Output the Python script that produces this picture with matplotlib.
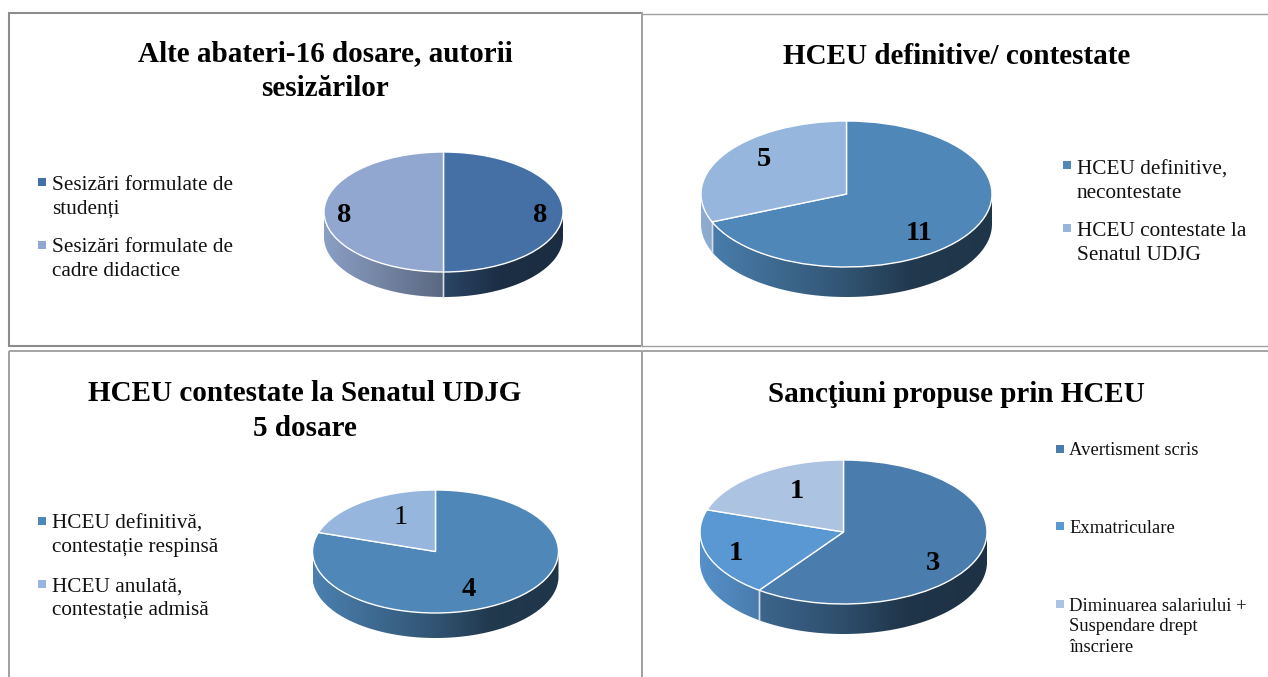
import numpy as np
import matplotlib
matplotlib.use("Agg")
import matplotlib.pyplot as plt
from matplotlib.colors import to_rgb
from matplotlib.patches import Polygon, Rectangle
from matplotlib.lines import Line2D

W, H = 1268, 677
plt.rcParams['font.family'] = ['Liberation Serif', 'DejaVu Sans']

# ---- data ----
titles = ["Alte abateri-16 dosare, autorii\nsesizărilor",
          "HCEU definitive/ contestate",
          "HCEU contestate la Senatul UDJG\n5 dosare",
          "Sancţiuni propuse prin HCEU"]
values_a = [8, 8]
values_b = [11, 5]
values_c = [4, 1]
values_d = [3, 1, 1]
labels_a = ["Sesizări formulate de\nstudenți", "Sesizări formulate de\ncadre didactice"]
labels_b = ["HCEU definitive,\nnecontestate", "HCEU contestate la\nSenatul UDJG"]
labels_c = ["HCEU definitivă,\ncontestație respinsă", "HCEU anulată,\ncontestație admisă"]
labels_d = ["Avertisment scris", "Exmatriculare",
            "Diminuarea salariului +\nSuspendare drept\nînscriere"]
colors_a = ["#4470a5", "#92a7cf"]
colors_b = ["#4f87b9", "#96b6dd"]
colors_c = ["#4f87b9", "#96b6dd"]
colors_d = ["#4a7dad", "#5a98d4", "#adc3e2"]

fig = plt.figure(figsize=(W / 100, H / 100), dpi=100, facecolor="white")


def fx(x):
    return x / W


def fy(y):
    return 1 - y / H


def line(x0, y0, x1, y1, color="#8c8c8c", lw=1.0):
    fig.add_artist(Line2D([fx(x0), fx(x1)], [fy(y0), fy(y1)], color=color, lw=lw,
                          transform=fig.transFigure, solid_capstyle="butt"))


def wall_gradient(color):
    xs = np.linspace(-1, 1, 300)
    mult = np.interp(xs, [-1, 0, 0.45, 1], [0.95, 0.62, 0.42, 0.40])
    rgb = np.array(to_rgb(color))
    return (mult[None, :, None] * rgb[None, None, :]).clip(0, 1)


def pie3d(values, colors, cx, cy, rx, ry, depth):
    m = 6
    ax = fig.add_axes([fx(cx - rx - m), fy(cy + ry + depth + m),
                       (2 * rx + 2 * m) / W, (2 * ry + depth + 2 * m) / H])
    wedges, _ = ax.pie(values, colors=colors, startangle=90, counterclock=False, radius=1,
                       wedgeprops=dict(edgecolor="white", linewidth=1.0, zorder=5))
    d = depth / ry
    for w, col in zip(wedges, colors):
        # keep only the visible (front) half of the rim of each slice
        t = np.radians(np.linspace(w.theta1, w.theta2, 361))
        t = t[np.sin(t) <= 0.0]
        if len(t) < 2:
            continue
        xa, ya = np.cos(t), np.sin(t)
        poly = np.column_stack([np.r_[xa, xa[::-1]], np.r_[ya, ya[::-1] - d]])
        patch = Polygon(poly, closed=True, transform=ax.transData, fc="none", ec="none")
        ax.add_patch(patch)
        im = ax.imshow(wall_gradient(col), extent=[-1, 1, -1 - d, 1], aspect="auto", zorder=2,
                       interpolation="bilinear")
        im.set_clip_path(patch)
        for xe, ye in ((xa[0], ya[0]), (xa[-1], ya[-1])):
            if abs(abs(xe) - 1) > 0.01:
                ax.plot([xe, xe], [ye, ye - d], color="#d5dde8", lw=1.0, zorder=3)
    ax.set_aspect("auto")
    ax.set_xlim(-(rx + m) / rx, (rx + m) / rx)
    ax.set_ylim(-(ry + depth + m) / ry, (ry + m) / ry)
    ax.axis("off")
    return ax


def number(x, y, s, bold=True, size=20.5):
    fig.text(fx(x), fy(y + 2), s, ha="center", va="center", fontsize=size,
             fontweight="bold" if bold else "normal", color="black", zorder=10)


def title(x, y, s):
    fig.text(fx(x), fy(y), s, ha="center", va="center", fontsize=21, fontweight="bold",
             color="black", linespacing=1.36, zorder=10)


def legend_item(xm, ym, xt, s, color, size=15.3, msize=8, spacing=1.32, dy=0):
    fig.add_artist(Rectangle((fx(xm), fy(ym + msize / 2)), msize / W, msize / H, fc=color, ec="none",
                             transform=fig.transFigure))
    fig.text(fx(xt), fy(ym + dy - size * 0.44), s, ha="left", va="top", fontsize=size, color="#111111",
             linespacing=spacing, zorder=10)


# ---- panel frames ----
line(9, 13, 641, 13, lw=1.5)
line(9, 12, 9, 346.5, lw=1.5)
line(9, 345.7, 641, 345.7, lw=1.5)
line(641.5, 12, 641.5, 346, lw=1.4, color="#a0a0a0")
line(641, 14, W, 14, lw=1.0, color="#a0a0a0")
line(641, 346, W, 346, lw=1.0, color="#a0a0a0")
line(9, 351, W, 351, lw=1.1)
line(9, 351, 9, H, lw=1.4, color="#a0a0a0")
line(641.5, 351, 641.5, H, lw=1.4, color="#a0a0a0")

# ---- pies ----
pie3d(values_a, colors_a, 443.5, 212, 119.5, 60, 25)
pie3d(values_b, colors_b, 846.5, 194, 145.5, 73, 30)
pie3d(values_c, colors_c, 435.5, 551.5, 123, 61.5, 25)
pie3d(values_d, colors_d, 843.5, 532, 143.5, 72, 30)

# ---- titles ----
title(325, 71, titles[0])
title(957, 56, titles[1])
title(305, 411, titles[2])
title(956, 394, titles[3])

# ---- value labels ----
number(344, 214, str(values_a[1]))
number(540, 214, str(values_a[0]))
number(919, 231, str(values_b[0]))
number(764, 157, str(values_b[1]))
number(469, 588, str(values_c[0]))
number(401, 515, str(values_c[1]), bold=False)
number(933, 561, str(values_d[0]))
number(736, 552, str(values_d[1]))
number(797, 490, str(values_d[2]))

# ---- legends ----
legend_item(38, 182, 52, labels_a[0], colors_a[0], dy=1)
legend_item(38, 245, 52, labels_a[1], colors_a[1])
legend_item(1063, 165, 1077, labels_b[0], colors_b[0], dy=2)
legend_item(1063, 228, 1077, labels_b[1], colors_b[1], dy=1)
legend_item(38, 521, 52, labels_c[0], colors_c[0])
legend_item(38, 584, 52, labels_c[1], colors_c[1])
legend_item(1056, 449, 1069, labels_d[0], colors_d[0], size=13.4, spacing=1.26, dy=-1)
legend_item(1056, 526, 1069, labels_d[1], colors_d[1], size=13.4, spacing=1.26)
legend_item(1056, 604, 1069, labels_d[2], colors_d[2], size=13.4, spacing=1.26)

fig.savefig("out.png", dpi=100, facecolor="white")
